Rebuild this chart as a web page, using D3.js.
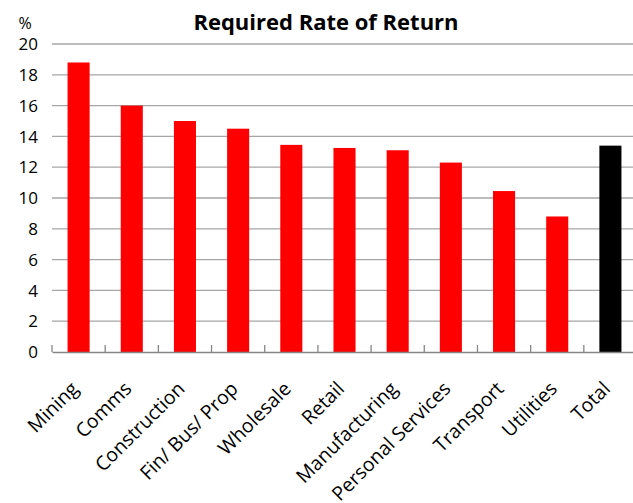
<!DOCTYPE html>
<html>
<head>
<meta charset="utf-8">
<script src="https://cdn.jsdelivr.net/npm/d3@7"></script>
<style>
  body { margin: 0; background: #fff; }
  text { font-family: "Open Sans", sans-serif; }
</style>
</head>
<body>
<svg id="chart"></svg>
<script>
const categories = ["Mining", "Comms", "Construction", "Fin/ Bus/ Prop", "Wholesale", "Retail",
                    "Manufacturing", "Personal Services", "Transport", "Utilities", "Total"];
const rates = [18.8, 16.0, 15.0, 14.5, 13.45, 13.25, 13.1, 12.3, 10.45, 8.8, 13.4];
const yTicks = [0, 2, 4, 6, 8, 10, 12, 14, 16, 18, 20];

const width = 633, height = 503;
const margin = { left: 52, right: -4, top: 44, bottom: 151 };

const svg = d3.select('#chart')
    .attr("width", width)
    .attr("height", height);

const xScale = d3.scaleBand()
  .domain(categories)
  .range([margin.left, width - margin.right])
  .paddingInner(0.585)
  .paddingOuter(0.2925);

const yScale = d3.scaleLinear()
  .domain([0, 20])
  .range([height - margin.bottom, margin.top]);

// gridlines
svg.append('g')
  .selectAll('line')
  .data(yTicks.filter(d => d > 0))
  .enter()
  .append('line')
  .attr('x1', margin.left)
  .attr('x2', width)
  .attr('y1', d => yScale(d))
  .attr('y2', d => yScale(d))
  .attr('stroke', '#a6a6a6')
  .attr('stroke-width', 1.3);

// y tick labels
svg.append('g')
  .selectAll('text')
  .data(yTicks)
  .enter()
  .append('text')
  .attr('x', 38)
  .attr('y', d => yScale(d))
  .attr('dy', '0.36em')
  .attr('text-anchor', 'end')
  .attr('font-size', 17)
  .text(d => d);

svg.append('text')
  .attr('x', 25)
  .attr('y', 29)
  .attr('text-anchor', 'middle')
  .attr('font-size', 16)
  .text('%');

// bars
svg.append('g')
  .selectAll('rect')
  .data(rates)
  .enter()
  .append('rect')
  .attr('x', (d, i) => xScale(categories[i]))
  .attr('width', xScale.bandwidth())
  .attr('y', d => yScale(d))
  .attr('height', d => yScale(0) - yScale(d))
  .attr('fill', (d, i) => categories[i] === "Total" ? '#000000' : '#ff0000');

// x axis
const xAxis = d3.axisBottom(xScale).tickSize(0).tickFormat('');
const xAxisG = svg.append('g')
  .attr('transform', `translate(0, ${yScale(0)})`)
  .call(xAxis);
xAxisG.select('.domain').attr('stroke', '#868686').attr('stroke-width', 1.3);

// category boundary ticks (pointing up)
const step = xScale.step();
const bounds = d3.range(categories.length + 1).map(i => margin.left + i * step);
svg.append('g')
  .selectAll('line')
  .data(bounds)
  .enter()
  .append('line')
  .attr('x1', d => d)
  .attr('x2', d => d)
  .attr('y1', yScale(0))
  .attr('y2', yScale(0) - 7)
  .attr('stroke', '#868686')
  .attr('stroke-width', 1.3);

// rotated category labels
svg.append('g')
  .selectAll('text')
  .data(categories)
  .enter()
  .append('text')
  .attr('transform', d => `translate(${xScale(d) + xScale.bandwidth() / 2 + 1}, ${yScale(0) + 38}) rotate(-45)`)
  .attr('text-anchor', 'end')
  .attr('font-size', 19.5)
  .text(d => d);

// title
svg.append('text')
  .attr('x', 326)
  .attr('y', 30)
  .attr('text-anchor', 'middle')
  .attr('font-size', 22)
  .attr('font-weight', 'bold')
  .text('Required Rate of Return');
</script>
</body>
</html>
